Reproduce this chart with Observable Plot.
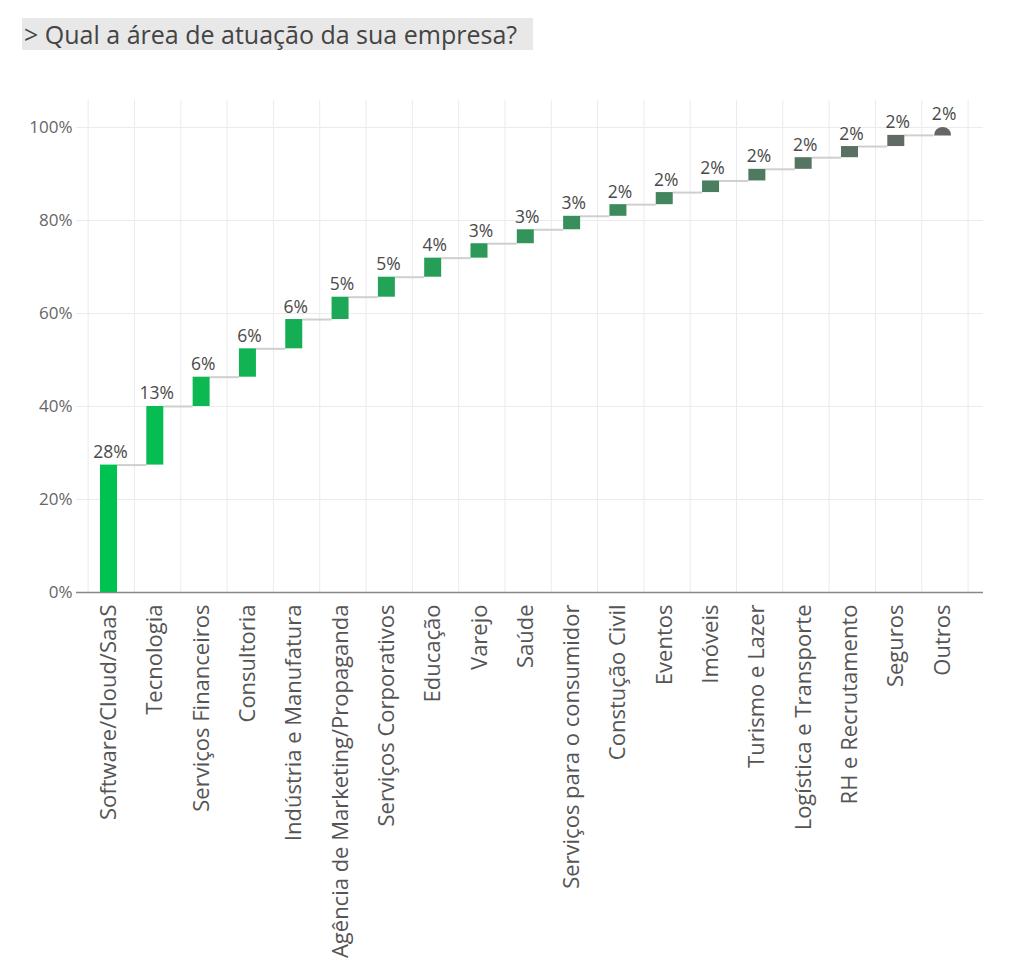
<!DOCTYPE html>
<html><head><meta charset="utf-8">
<script src="https://cdn.jsdelivr.net/npm/d3@7"></script>
<script src="https://cdn.jsdelivr.net/npm/@observablehq/plot@0.6"></script>
<style>
body{margin:0;background:#fff;font-family:"Open Sans",sans-serif;}
#wrap{position:relative;width:1024px;height:968px;}
#chart{position:absolute;left:0;top:0;}
#title{position:absolute;left:22px;top:18px;height:32px;line-height:32px;padding:0 16px 0 2px;background:#e8e8e8;color:#444;font-size:25px;white-space:nowrap;}
</style></head><body>
<div id="wrap"><div id="chart"></div><div id="title">&gt; Qual a área de atuação da sua empresa?</div></div>
<script>
const categories = ["Software/Cloud/SaaS","Tecnologia","Serviços Financeiros","Consultoria","Indústria e Manufatura","Agência de Marketing/Propaganda","Serviços Corporativos","Educação","Varejo","Saúde","Serviços para o consumidor","Constução Civil","Eventos","Imóveis","Turismo e Lazer","Logística e Transporte","RH e Recrutamento","Seguros","Outros"];
const shares = [27.4, 12.6, 6.3, 6.1, 6.3, 4.8, 4.3, 4.1, 3.1, 3.0, 2.9, 2.5, 2.6, 2.5, 2.5, 2.5, 2.4, 2.4, 1.7];
const shareLabels = ["28%","13%","6%","6%","6%","5%","5%","4%","3%","3%","3%","2%","2%","2%","2%","2%","2%","2%","2%"];
const yTicks = [0, 20, 40, 60, 80, 100];
const colorRange = ["#00c250", "#5f6b63"];
const otherColor = "#666666";

const ends = d3.cumsum(shares);
const data = categories.map((c, i) => ({i, cat: c, start: ends[i] - shares[i], end: ends[i], label: shareLabels[i]}));
const n = data.length;
const bars = data.slice(0, n - 1);
const last = data.slice(n - 1);
const hw = 0.1835;

const semicircle = {
  draw(context, size) {
    const r = Math.sqrt(size / Math.PI);
    context.moveTo(r, 0);
    context.arc(0, 0, r, 0, Math.PI, true);
    context.closePath();
  }
};

const chart = Plot.plot({
  width: 1024,
  height: 968,
  marginLeft: 76,
  marginRight: 41,
  marginTop: 100,
  marginBottom: 376,
  style: {fontFamily: "'Open Sans', sans-serif", background: "transparent"},
  x: {type: "linear", domain: [-0.702, 18.883]},
  y: {domain: [0, 105.8]},
  color: {type: "linear", domain: [0, n - 2], range: colorRange, interpolate: "rgb"},
  marks: [
    Plot.gridY(yTicks, {stroke: "#ebebeb", strokeOpacity: 1}),
    Plot.ruleX(d3.range(n + 1), {x: d => d - 0.45, stroke: "#ebebeb"}),
    Plot.ruleY([0], {stroke: "#888", strokeWidth: 1.5}),
    Plot.ruleY(data.slice(0, n - 1), {y: "end", x1: d => d.i + hw, x2: d => d.i + 1 - hw, stroke: "#cfcfcf", strokeWidth: 2}),
    Plot.rect(bars, {x1: d => d.i - hw, x2: d => d.i + hw, y1: "start", y2: "end", fill: "i"}),
    Plot.dot(last, {x: "i", y: "start", r: 8.5, symbol: semicircle, fill: otherColor, stroke: null}),
    Plot.text(data, {x: "i", y: "end", text: "label", dx: 1.5, dy: -7, lineAnchor: "bottom", fontSize: 17.5, fill: "#4a4a4a"}),
    Plot.axisY({ticks: yTicks, tickFormat: d => d + "%", tickSize: 0, tickPadding: 4, fontSize: 17, color: "#666"}),
    Plot.axisX({ticks: d3.range(n), tickFormat: i => categories[i], tickRotate: -90, tickSize: 0, tickPadding: 12, fontSize: 22, color: "#555", label: null})
  ]
});
document.getElementById("chart").appendChild(chart);
</script>
</body></html>
